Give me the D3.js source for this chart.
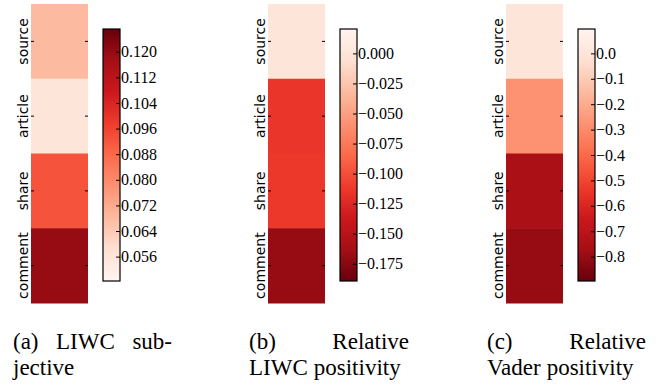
<!DOCTYPE html>
<html>
<head>
<meta charset="utf-8">
<script src="https://cdn.jsdelivr.net/npm/d3@7"></script>
<style>
  body { margin: 0; background: #fff; }
  svg { display: block; }
</style>
</head>
<body>
<div id="chart"></div>
<script>
// chart data
var categories = ["source", "article", "share", "comment"];
var liwcSubjective = [0.068, 0.056, 0.0925, 0.1195];
var liwcPositivity = [0.0, -0.115, -0.113, -0.169];
var vaderPositivity = [0.0, -0.276, -0.755, -0.80];
var ticksA = [0.056, 0.064, 0.072, 0.080, 0.088, 0.096, 0.104, 0.112, 0.120];
var ticksB = [0.0, -0.025, -0.05, -0.075, -0.1, -0.125, -0.15, -0.175];
var ticksC = [0.0, -0.1, -0.2, -0.3, -0.4, -0.5, -0.6, -0.7, -0.8];
var captionsA = [["(a)", "LIWC", "sub-"], ["jective"]];
var captionsB = [["(b)", "Relative"], ["LIWC", "positivity"]];
var captionsC = [["(c)", "Relative"], ["Vader", "positivity"]];

var svgWidth = 666, svgHeight = 386;
var serif = "'Liberation Serif', 'Times New Roman', serif";

var svg = d3.select("#chart")
  .append("svg")
  .attr("width", svgWidth)
  .attr("height", svgHeight);

var panels = [
  {values: liwcSubjective, ticks: ticksA, fmt: d3.format(".3f"), reversed: false, caption: captionsA, left: 31},
  {values: liwcPositivity, ticks: ticksB, fmt: d3.format(".3f"), reversed: true, caption: captionsB, left: 268},
  {values: vaderPositivity, ticks: ticksC, fmt: d3.format(".1f"), reversed: true, caption: captionsC, left: 506}
];

var hmTop = 4, hmBottom = 303, hmWidth = 57;
var cbTop = 29, cbBottom = 281, cbGap = 15, cbWidth = 17;
var reds = d3.schemeReds[9];
var redsStops = d3.range(9).map(function(i){ return i / 8; });

panels.forEach(function(p, pi){
  var ext = d3.extent(p.values);
  var pad = (ext[1] - ext[0]) * 0.12;
  var domain = [ext[0] - pad, ext[1] + pad];

  var norm = d3.scaleLinear().domain(domain).range([0, 1]);
  var ramp = d3.scaleLinear().domain(redsStops).range(p.reversed ? reds.slice().reverse() : reds);
  var color = function(v){ return ramp(norm(v)); };

  var y = d3.scaleBand().domain(categories).range([hmTop, hmBottom]);

  var g = svg.append("g");

  // heatmap cells
  g.selectAll("rect.cell")
    .data(categories)
    .enter()
    .append("rect")
    .attr("class", "cell")
    .attr("x", p.left)
    .attr("y", function(d){ return y(d); })
    .attr("width", hmWidth)
    .attr("height", y.bandwidth() + 0.5)
    .attr("fill", function(d, i){ return color(p.values[i]); });

  // row ticks + labels
  var leftAxis = g.append("g")
    .attr("transform", "translate(" + p.left + ",0)")
    .call(d3.axisLeft(y).tickSize(-3));
  leftAxis.select(".domain").remove();
  leftAxis.selectAll("text")
    .attr("x", 0)
    .attr("y", -3.5)
    .attr("dy", 0)
    .attr("text-anchor", "middle")
    .attr("transform", "rotate(-90)")
    .style("font-family", "'DejaVu Sans', sans-serif")
    .style("font-size", "14px")
    .attr("fill", "#000");

  var rightAxis = g.append("g")
    .attr("transform", "translate(" + (p.left + hmWidth) + ",0)")
    .call(d3.axisRight(y).tickSize(-3).tickFormat(""));
  rightAxis.select(".domain").remove();

  // colorbar
  var cbX = p.left + hmWidth + cbGap;
  var gradId = "grad" + pi;
  var grad = svg.append("defs").append("linearGradient")
    .attr("id", gradId)
    .attr("x1", 0).attr("y1", 1).attr("x2", 0).attr("y2", 0);
  grad.selectAll("stop")
    .data(redsStops)
    .enter()
    .append("stop")
    .attr("offset", function(d){ return d; })
    .attr("stop-color", function(d){ return ramp(d); });

  g.append("rect")
    .attr("x", cbX)
    .attr("y", cbTop)
    .attr("width", cbWidth)
    .attr("height", cbBottom - cbTop)
    .attr("fill", "url(#" + gradId + ")")
    .attr("stroke", "#000")
    .attr("stroke-width", 1.2);

  var cbScale = d3.scaleLinear().domain(domain).range([cbBottom, cbTop]);
  var cbAxis = g.append("g")
    .attr("transform", "translate(" + (cbX + cbWidth) + ",0)")
    .call(d3.axisRight(cbScale).tickValues(p.ticks).tickFormat(p.fmt).tickSize(-4).tickPadding(1));
  cbAxis.select(".domain").remove();
  cbAxis.attr("font-family", null).attr("font-size", null);
  cbAxis.selectAll("text")
    .style("font-family", serif)
    .style("font-size", "16px")
    .attr("fill", "#000");

  // caption (first line justified, second line left)
  var capLeft = [13, 249, 487][pi], capRight = [172, 409, 646][pi];
  var cap = svg.append("g")
    .style("font-family", serif)
    .style("font-size", "23px")
    .attr("fill", "#000");
  p.caption.forEach(function(words, li){
    var by = 349 + li * 26;
    var texts = words.map(function(w){
      return cap.append("text").attr("y", by).text(w);
    });
    if (li === 0 && words.length > 1) {
      var widths = texts.map(function(t){ return t.node().getComputedTextLength(); });
      var gap = (capRight - capLeft - d3.sum(widths)) / (words.length - 1);
      var xx = capLeft;
      texts.forEach(function(t, k){ t.attr("x", xx); xx += widths[k] + gap; });
    } else {
      var xx2 = capLeft;
      texts.forEach(function(t){
        t.attr("x", xx2);
        xx2 += t.node().getComputedTextLength() + 6;
      });
    }
  });
});
</script>
</body>
</html>
